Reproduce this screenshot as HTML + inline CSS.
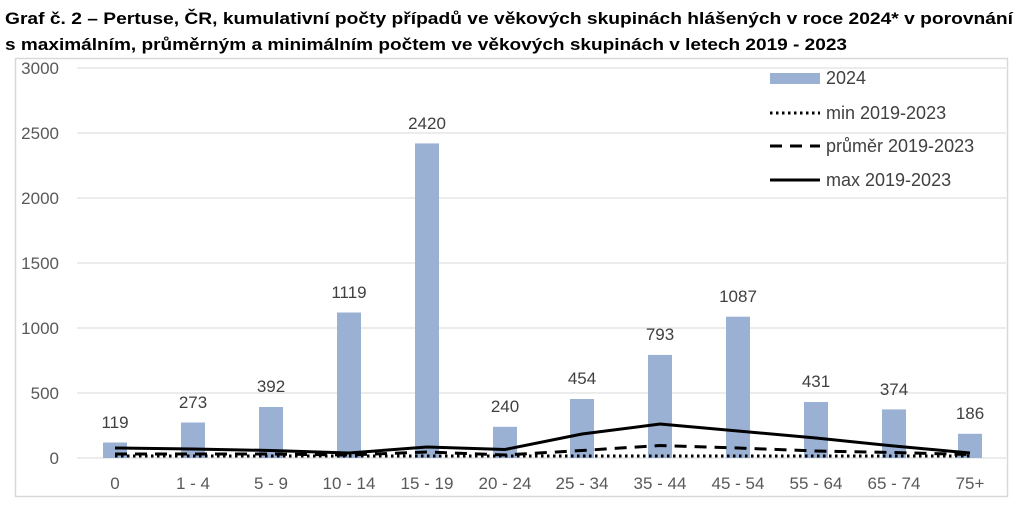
<!DOCTYPE html>
<html><head><meta charset="utf-8"><style>
html,body{margin:0;padding:0;background:#fff;width:1024px;height:512px;overflow:hidden}
svg{display:block}
text{font-family:"Liberation Sans",sans-serif}
</style></head><body>
<svg width="1024" height="512" viewBox="0 0 1024 512">
<text x="5" y="24" font-size="17" font-weight="bold" fill="#000" textLength="1008" lengthAdjust="spacingAndGlyphs">Graf č. 2 – Pertuse, ČR, kumulativní počty případů ve věkových skupinách hlášených v roce 2024* v porovnání</text>
<text x="5" y="50" font-size="17" font-weight="bold" fill="#000" textLength="842" lengthAdjust="spacingAndGlyphs">s maximálním, průměrným a minimálním počtem ve věkových skupinách v  letech 2019 - 2023</text>
<rect x="15.5" y="58.5" width="992" height="438" fill="none" stroke="#d9d9d9" stroke-width="1.5"/>
<g stroke="#d9d9d9" stroke-width="1">
<line x1="77" x2="1006" y1="68" y2="68"/><line x1="77" x2="1006" y1="133" y2="133"/>
<line x1="77" x2="1006" y1="198" y2="198"/><line x1="77" x2="1006" y1="263" y2="263"/>
<line x1="77" x2="1006" y1="328" y2="328"/><line x1="77" x2="1006" y1="393" y2="393"/>
<line x1="77" x2="1006" y1="458" y2="458"/>
</g>
<g font-size="17" fill="#595959" text-anchor="end">
<text x="59" y="74">3000</text><text x="59" y="139">2500</text><text x="59" y="204">2000</text>
<text x="59" y="269">1500</text><text x="59" y="334">1000</text><text x="59" y="399">500</text><text x="59" y="464">0</text>
</g>
<g fill="#9bb1d4">
<rect x="103" y="442.5" width="24" height="15.5"/>
<rect x="181" y="422.5" width="24" height="35.5"/>
<rect x="259" y="407" width="24" height="51"/>
<rect x="337" y="312.5" width="24" height="145.5"/>
<rect x="415" y="143.4" width="24" height="314.6"/>
<rect x="493" y="426.8" width="24" height="31.2"/>
<rect x="570" y="399" width="24" height="59"/>
<rect x="648" y="354.9" width="24" height="103.1"/>
<rect x="726" y="316.7" width="24" height="141.3"/>
<rect x="804" y="402" width="24" height="56"/>
<rect x="882" y="409.4" width="24" height="48.6"/>
<rect x="958" y="433.8" width="24" height="24.2"/>
</g>
<g font-size="17" fill="#404040" text-anchor="middle">
<text x="115" y="428">119</text><text x="193" y="408">273</text><text x="271" y="392">392</text>
<text x="349" y="298">1119</text><text x="427" y="129">2420</text><text x="505" y="412">240</text>
<text x="582" y="384">454</text><text x="660" y="340">793</text><text x="738" y="302">1087</text>
<text x="816" y="387">431</text><text x="894" y="395">374</text><text x="970" y="419">186</text>
</g>
<polyline fill="none" stroke="#000" stroke-width="3" stroke-dasharray="2.5,3.5" points="115,456 193,456 271,456 349,456 427,456 505,456 582,456 660,456 738,456 816,456 894,456 970,456"/>
<polyline fill="none" stroke="#000" stroke-width="3" stroke-dasharray="12,8" points="115,454 193,454 271,454 349,455 427,452 505,455 582,450.5 660,445.5 738,448 816,451 894,452.5 970,454.5"/>
<polyline fill="none" stroke="#000" stroke-width="3" points="115,448 193,449 271,450.5 349,453 427,447 505,449.5 582,434 660,424 738,431 816,438 894,446 970,453"/>
<g font-size="18" fill="#404040">
<text x="826" y="84">2024</text><text x="826" y="119">min 2019-2023</text>
<text x="826" y="152">průměr 2019-2023</text><text x="826" y="186">max 2019-2023</text>
</g>
<rect x="770" y="73" width="50" height="11" fill="#9bb1d4"/>
<line x1="770" x2="820" y1="113" y2="113" stroke="#000" stroke-width="3" stroke-dasharray="2.5,3.5"/>
<line x1="770" x2="820" y1="146" y2="146" stroke="#000" stroke-width="3" stroke-dasharray="12,8"/>
<line x1="770" x2="820" y1="180" y2="180" stroke="#000" stroke-width="3"/>
<g font-size="17" fill="#595959" text-anchor="middle">
<text x="115" y="489">0</text><text x="193" y="489">1 - 4</text><text x="271" y="489">5 - 9</text>
<text x="349" y="489">10 - 14</text><text x="427" y="489">15 - 19</text><text x="505" y="489">20 - 24</text>
<text x="582" y="489">25 - 34</text><text x="660" y="489">35 - 44</text><text x="738" y="489">45 - 54</text>
<text x="816" y="489">55 - 64</text><text x="894" y="489">65 - 74</text><text x="970" y="489">75+</text>
</g>
</svg>
</body></html>
